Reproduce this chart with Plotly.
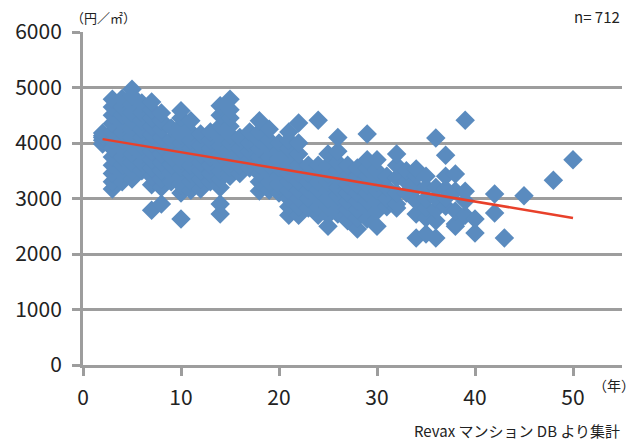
import plotly.graph_objects as go

ages = [2, 3, 4, 5, 6, 7, 8, 9, 10, 11, 12, 13, 14, 15, 16, 17, 18, 19, 20,
        21, 22, 23, 24, 25, 26, 27, 28, 29, 30, 31, 32, 33, 34, 35, 36, 37,
        38, 39, 40, 42, 43, 45, 48, 50]

prices = [
    [3980, 4050, 4100, 4130, 4180],
    [3170, 3300, 3450, 3600, 3750, 3900, 4050, 4200, 4350, 4500, 4650, 4790],
    [3300, 3450, 3600, 3750, 3900, 4050, 4200, 4350, 4500, 4650, 4800],
    [3350, 3500, 3650, 3800, 3950, 4100, 4250, 4400, 4550, 4700, 4850, 4970],
    [3500, 3650, 3800, 3950, 4100, 4250, 4400, 4550, 4720],
    [2790, 3250, 3400, 3550, 3700, 3850, 4000, 4150, 4300, 4450, 4600, 4740],
    [2900, 3200, 3350, 3500, 3650, 3800, 3950, 4100, 4250, 4400, 4540],
    [3300, 3450, 3600, 3750, 3900, 4050, 4270],
    [2630, 3100, 3250, 3400, 3550, 3700, 3850, 4000, 4150, 4300, 4450, 4580],
    [3150, 3300, 3450, 3600, 3750, 3900, 4050, 4200, 4400],
    [3170, 3350, 3500, 3650, 3800, 3950, 4160],
    [3300, 3450, 3600, 3750, 3900, 4050, 4200],
    [2720, 2900, 3200, 3350, 3500, 3650, 3800, 3950, 4100, 4300, 4500, 4670],
    [3400, 3550, 3700, 3850, 4000, 4150, 4300, 4450, 4600, 4790],
    [3450, 3600, 3750, 3900, 4100],
    [3550, 3700, 3850, 4000, 4200],
    [3135, 3300, 3450, 3600, 3750, 3900, 4050, 4200, 4400],
    [3150, 3300, 3450, 3600, 3750, 3900, 4050, 4250],
    [3100, 3250, 3400, 3550, 3700, 3850, 4000],
    [2700, 2850, 3000, 3150, 3300, 3450, 3600, 3750, 3900, 4050, 4200],
    [2700, 2850, 3000, 3150, 3300, 3450, 3600, 3800, 4000, 4360],
    [2830, 3000, 3150, 3300, 3450, 3600],
    [2700, 2850, 3000, 3150, 3300, 3450, 3600, 4410],
    [2500, 2700, 2850, 3000, 3150, 3300, 3450, 3600, 3800],
    [2720, 2900, 3050, 3200, 3350, 3500, 3650, 3850, 4100],
    [2600, 2800, 2950, 3100, 3250, 3400, 3600],
    [2450, 2650, 2800, 2950, 3100, 3250, 3400, 3550],
    [2630, 2800, 2950, 3100, 3250, 3400, 3550, 3700, 4160],
    [2500, 2770, 2950, 3135, 3300, 3500, 3700],
    [2850, 3000, 3200, 3400],
    [2830, 2900, 3100, 3370, 3600, 3800],
    [3100, 3300, 3500],
    [2290, 2720, 2950, 3200, 3400, 3530],
    [2360, 2650, 2830, 3000, 3200, 3400],
    [2290, 2600, 2800, 3000, 3200, 4090],
    [2860, 3010, 3170, 3400, 3780],
    [2500, 2540, 2775, 3135, 3440],
    [2700, 2955, 3130, 4410],
    [2380, 2630],
    [2740, 3080],
    [2290],
    [3050],
    [3330],
    [3700],
]

# Linear trend line as drawn on the chart
trend_x = [2, 50]
trend_y = [4070, 2650]

x_ticks = [0, 10, 20, 30, 40, 50]
y_ticks = [0, 1000, 2000, 3000, 4000, 5000, 6000]

pts_x = [a for a, ps in zip(ages, prices) for _ in ps]
pts_y = [p for ps in prices for p in ps]

FONT = "Noto Sans CJK JP"
GRID = "#9d9d9d"
TXT = "#222222"

fig = go.Figure()
fig.add_trace(go.Scatter(
    x=pts_x, y=pts_y, mode="markers",
    marker=dict(symbol="diamond", size=15, color="#5A8BBF", line=dict(width=0)),
    showlegend=False, hoverinfo="x+y",
))
fig.add_trace(go.Scatter(
    x=trend_x, y=trend_y, mode="lines",
    line=dict(color="#E8402A", width=2.5),
    showlegend=False, hoverinfo="skip",
))

# The page body adds an 8px margin, so the figure is 8px smaller and shifted.
fig.update_layout(
    width=636, height=435,
    margin=dict(l=75, r=22, t=24, b=78, autoexpand=False),
    paper_bgcolor="white", plot_bgcolor="white",
    font=dict(family=FONT, color=TXT),
    xaxis=dict(
        range=[0, 55], tickvals=x_ticks, ticktext=[str(v) for v in x_ticks],
        showgrid=False, zeroline=False, automargin=False,
        showline=True, linecolor=GRID, linewidth=3,
        ticks="outside", ticklen=8, tickwidth=2.5, tickcolor=GRID,
        tickfont=dict(size=21, family=FONT, color=TXT),
        ticklabelstandoff=4,
    ),
    yaxis=dict(
        range=[0, 6000], tickvals=y_ticks, ticktext=[str(v) for v in y_ticks],
        showgrid=True, gridcolor=GRID, gridwidth=3,
        zeroline=False, automargin=False,
        showline=True, linecolor=GRID, linewidth=3,
        ticks="outside", ticklen=8, tickwidth=2.5, tickcolor=GRID,
        tickfont=dict(size=21, family=FONT, color=TXT),
        ticklabelstandoff=6,
    ),
    annotations=[
        dict(text="（円／㎡）", xref="paper", yref="paper", x=-0.026, y=1.0,
             xanchor="left", yanchor="middle", showarrow=False, yshift=15,
             font=dict(size=13, family=FONT, color=TXT)),
        dict(text="n= 712", xref="paper", yref="paper", x=1.0, y=1.0,
             xanchor="right", yanchor="middle", showarrow=False, yshift=16,
             font=dict(size=15, family=FONT, color=TXT)),
        dict(text="（年）", xref="paper", yref="paper", x=0.985, y=0,
             xanchor="center", yanchor="middle", showarrow=False, yshift=-20,
             font=dict(size=14, family=FONT, color=TXT)),
        dict(text="Revax マンション DB より集計", xref="paper", yref="paper",
             x=1.0, y=0, xanchor="right", yanchor="middle", showarrow=False,
             yshift=-65, font=dict(size=15, family=FONT, color=TXT)),
    ],
)

fig.write_html("out.html")
